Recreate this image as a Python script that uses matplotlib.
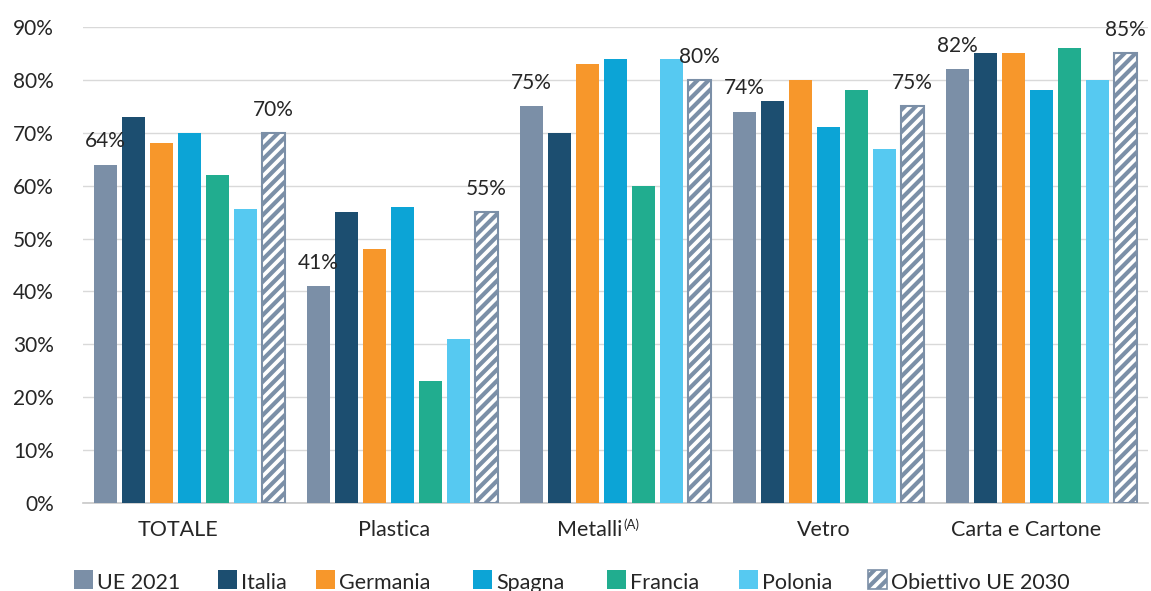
import matplotlib
matplotlib.use("Agg")
import matplotlib.pyplot as plt
import matplotlib.transforms as mtrans
import numpy as np
from matplotlib.patches import Rectangle

categories = ["TOTALE", "Plastica", "Metalli", "Vetro", "Carta e Cartone"]
category_sup = ["", "", "(A)", "", ""]
series_names = ["UE 2021", "Italia", "Germania", "Spagna", "Francia", "Polonia", "Obiettivo UE 2030"]
ue_2021 = [64, 41, 75, 74, 82]
italia = [73, 55, 70, 76, 85]
germania = [68, 48, 83, 80, 85]
spagna = [70, 56, 84, 71, 78]
francia = [62, 23, 60, 78, 86]
polonia = [55.5, 31, 84, 67, 80]
obiettivo = [70, 55, 80, 75, 85]

series = [ue_2021, italia, germania, spagna, francia, polonia, obiettivo]
colors = ["#7b8fa7", "#1c4e70", "#f7972b", "#0ca4d6", "#21ad8f", "#56c9f1", "white"]
hatch_color = "#7b8fa7"

# layout (pixels)
label_shift_px = [-11.5, -8.5, -25.5, -4.5, -15]
legend_x_px = [74, 218, 316, 473, 607, 739, 868]

plt.rcParams['font.family'] = ['Lato', 'DejaVu Sans']
plt.rcParams['hatch.linewidth'] = 3.0

W, H = 1151, 591
fig = plt.figure(figsize=(W / 100, H / 100), dpi=100)
ax = fig.add_axes([83 / W, 1 - 503 / H, 1065 / W, (503 - 27) / H])

x = np.arange(len(categories))
step = 0.1315
width = 0.105
text_color = "#262626"
for i, (vals, c) in enumerate(zip(series, colors)):
    pos = x + (i - 3) * step
    if i == 6:
        ax.bar(pos, np.array(vals) / 100, width, color="white", edgecolor=hatch_color,
               hatch="///", linewidth=1.5, zorder=3)
    else:
        ax.bar(pos, np.array(vals) / 100, width, color=c, zorder=3)
    if i in (0, 6):
        for p, v in zip(pos, vals):
            ax.text(p, v / 100 + 0.025, f"{v:.0f}%", ha="center", va="bottom",
                    fontsize=15, color=text_color, zorder=4)

ax.set_xlim(-0.5, 4.5)
ax.set_ylim(0, 0.9)
yt = np.arange(0, 0.91, 0.1)
ax.set_yticks(yt)
ax.set_yticklabels([f"{int(round(t*100))}%" for t in yt], fontsize=15, color=text_color)
ax.set_xticks(x)
ax.set_xticklabels([])
ax.tick_params(axis="both", length=0)
ax.tick_params(axis="y", pad=21)
ax.grid(axis="y", color="#d9d9d9", linewidth=1, zorder=0)
for s in ["top", "right", "left"]:
    ax.spines[s].set_visible(False)
ax.spines["bottom"].set_color("#c8c8c8")
ax.spines["bottom"].set_linewidth(1.2)

# category labels
xform = mtrans.blended_transform_factory(ax.transData, fig.transFigure)
renderer = fig.canvas.get_renderer()
for xi, cat, sup, sh in zip(x, categories, category_sup, label_shift_px):
    t = ax.text(xi, 1 - 530 / H, cat, ha="center", va="center", fontsize=15.5, color=text_color,
                transform=xform + mtrans.ScaledTranslation(sh / 100, 0, fig.dpi_scale_trans))
    if sup:
        bb = t.get_window_extent(renderer=renderer)
        fig.text((bb.x1 + 1) / W, (bb.y1 + 2) / H, sup, ha="left", va="top", fontsize=9.5,
                 color=text_color)

# legend (manual)
sq = 19
for lx, name, c in zip(legend_x_px, series_names, colors):
    if c == "white":
        r = Rectangle((lx / W, 2 / H), sq / W, sq / H, transform=fig.transFigure,
                      facecolor="white", edgecolor=hatch_color, hatch="///", linewidth=1.2)
    else:
        r = Rectangle((lx / W, 2 / H), sq / W, sq / H, transform=fig.transFigure,
                      facecolor=c, edgecolor="none")
    fig.add_artist(r)
    fig.text((lx + sq + 4) / W, 2 / H, name, ha="left", va="baseline", fontsize=15.5,
             color=text_color)

fig.savefig("out.png", dpi=100)
